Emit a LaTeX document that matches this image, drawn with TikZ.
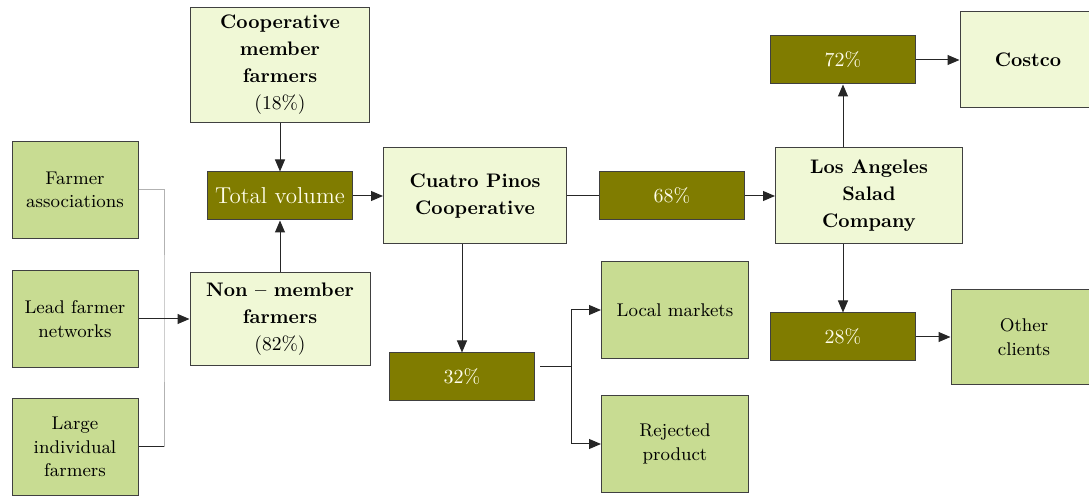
\documentclass[tikz,border=0pt]{standalone}
\usepackage{tikz}
\usetikzlibrary{arrows.meta}

\definecolor{lightfill}{HTML}{F0F8D6}
\definecolor{midfill}{HTML}{C8DC92}
\definecolor{darkfill}{HTML}{807C00}

\begin{document}
\begin{tikzpicture}[
    x=0.5pt, y=-0.5pt, % one unit per pixel, y runs downwards
    box/.style={
        draw=black!75, % thin dark border
        line width=0.5pt,
        align=center, % centre the lines
        inner sep=2pt
    },
    lightbox/.style={box, fill=lightfill, font=\fontsize{9.8}{13.5}\selectfont\bfseries},
    midbox/.style={box, fill=midfill, font=\fontsize{9.2}{11.7}\selectfont,
        minimum width=63pt, minimum height=48.5pt},
    sharebox/.style={box, fill=darkfill, text=white!92!yellow, font=\fontsize{10}{12}\selectfont,
        minimum width=72.5pt, minimum height=24pt},
    flow/.style={draw=black!85, line width=0.5pt, -{Triangle[length=6pt,width=5pt]}},
    link/.style={draw=black!85, line width=0.5pt},
    faint/.style={draw=black!30, line width=0.5pt}
]
\clip (0,0) rectangle (1089,496);

% suppliers on the left
\node[midbox] (assoc) at (75,190) {Farmer\\associations};
\node[midbox] (lead) at (75,319) {Lead farmer\\networks};
\node[midbox] (large) at (75,447) {Large\\individual\\farmers};
\coordinate (join) at (164,319);

% the two farmer groups and the total
\node[lightbox, minimum width=89.5pt, minimum height=57.5pt] (coop) at (280,65)
    {Cooperative\\member\\farmers\\{\mdseries(18\%)}};
\node[sharebox, font=\fontsize{11.5}{13.5}\selectfont] (total) at (280,196) {Total volume};
\node[lightbox, minimum width=90pt, minimum height=46.5pt] (nonmem) at (280,319)
    {Non -- member\\farmers\\{\mdseries(82\%)}};

% cooperative and its outlets
\node[lightbox, minimum width=91.5pt, minimum height=48pt] (pinos) at (475,196)
    {Cuatro Pinos\\Cooperative};
\node[sharebox] (p68) at (672,196) {68\%};
\node[sharebox] (p32) at (462,377) {32\%};
\coordinate (fork) at (571,367);
\node[midbox, minimum width=73.5pt] (market) at (675,310) {Local markets};
\node[midbox, minimum width=73.5pt] (reject) at (675,444) {Rejected\\product};

% salad company and its clients
\node[lightbox, minimum width=93.5pt, minimum height=48pt] (salad) at (869,196)
    {Los Angeles\\Salad\\Company};
\node[sharebox] (p72) at (843,60) {72\%};
\node[sharebox] (p28) at (843,337) {28\%};
\node[lightbox, minimum width=68pt, minimum height=48pt] (costco) at (1028,60) {Costco};
\node[midbox, minimum width=73pt, minimum height=47.5pt] (others) at (1024,337) {Other\\clients};

% connectors
\draw[faint] (assoc.east) -| (join) |- (large.east);
\draw[link] (large.east) -- (large.east -| join);
\draw[flow] (lead) -- (nonmem);
\draw[flow] (coop) -- (total);
\draw[flow] (nonmem) -- (total);
\draw[flow] (total) -- (pinos);
\draw[link] (pinos) -- (p68);
\draw[flow] (p68) -- (salad);
\draw[flow] (pinos.south -| p32.north) -- (p32.north);
\draw[link] ([xshift=2.5pt]p32.east |- fork) -- (fork);
\draw[flow] (fork) |- (market);
\draw[flow] (fork) |- (reject);
\draw[flow] (salad.north -| p72.south) -- (p72.south);
\draw[flow] (salad.south -| p28.north) -- (p28.north);
\draw[flow] (p72) -- (costco);
\draw[flow] (p28) -- (others);
\end{tikzpicture}
\end{document}
